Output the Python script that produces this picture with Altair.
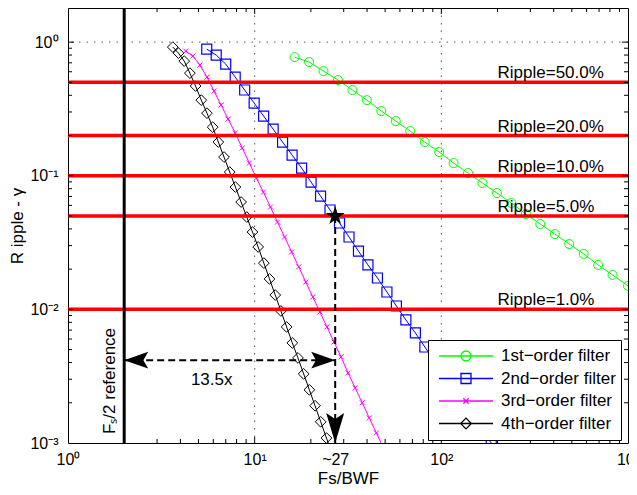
import altair as alt
import pandas as pd

# ---------------- data ----------------
ORDER1_X = [16.37, 19.56, 23.37, 27.94, 33.39, 39.90, 47.69, 57.00, 68.12, 81.44, 97.32, 116.3,
            139.0, 166.1, 198.6, 237.3, 283.7, 339.0, 405.2, 484.3, 578.8, 691.8, 826.8, 1000.0]
ORDER1_Y = [0.772, 0.709, 0.607, 0.520, 0.438, 0.368, 0.305, 0.2565, 0.2159, 0.1787, 0.1504, 0.1245,
            0.1047, 0.0882, 0.0742, 0.0625, 0.0517, 0.0435, 0.0366, 0.0308, 0.0260, 0.0215, 0.0181, 0.0150]

ORDER2_X = [5.537, 6.224, 6.997, 7.865, 8.841, 9.938, 11.17, 12.56, 14.11, 15.87, 17.84, 20.05,
            22.54, 25.33, 28.48, 32.02, 35.98, 40.45, 45.47, 51.11, 57.45, 64.58, 72.61, 81.60,
            91.74, 103.1, 115.9, 130.3, 146.5, 164.6, 185.1]
ORDER2_Y = [0.886, 0.799, 0.685, 0.547, 0.438, 0.350, 0.2797, 0.2235, 0.1787, 0.1428, 0.1142, 0.0897,
            0.0705, 0.0554, 0.0443, 0.0348, 0.0273, 0.0215, 0.01717, 0.01349, 0.01060, 0.00833, 0.00666,
            0.00523, 0.00411, 0.00323, 0.00258, 0.00203, 0.00159, 0.00127, 0.00100]

ORDER3_X = [4.276, 4.665, 5.089, 5.552, 6.057, 6.607, 7.209, 7.865, 8.580, 9.361, 10.21, 11.14,
            12.15, 13.26, 14.46, 15.78, 17.22, 18.79, 20.49, 22.36, 24.39, 26.61, 29.03, 31.67,
            34.55, 37.69, 41.12, 44.85, 48.94]
ORDER3_Y = [0.856, 0.786, 0.673, 0.547, 0.430, 0.338, 0.2655, 0.2087, 0.1611, 0.1245, 0.0961, 0.0755,
            0.0583, 0.0450, 0.0348, 0.0269, 0.0208, 0.0160, 0.01238, 0.00956, 0.00739, 0.00570, 0.00441,
            0.00334, 0.00258, 0.00200, 0.00154, 0.00119, 0.00092]

ORDER4_X = [3.644, 3.908, 4.193, 4.497, 4.825, 5.175, 5.552, 5.956, 6.388, 6.853, 7.351, 7.886,
            8.459, 9.073, 9.732, 10.44, 11.20, 12.01, 12.89, 13.82, 14.83, 15.91, 17.06, 18.30,
            19.63, 21.06, 22.59, 24.24, 26.0]
ORDER4_Y = [0.918, 0.827, 0.721, 0.586, 0.469, 0.368, 0.294, 0.231, 0.1787, 0.1380, 0.1066, 0.0823,
            0.0636, 0.0491, 0.0379, 0.0293, 0.0222, 0.0169, 0.0128, 0.00973, 0.00739, 0.00561, 0.00433,
            0.00329, 0.00250, 0.00190, 0.00144, 0.00109, 0.00083]

SERIES_NAMES = ["1st\u2212order filter", "2nd\u2212order filter", "3rd\u2212order filter", "4th\u2212order filter"]

RIPPLE_LEVELS = [0.5, 0.2, 0.1, 0.05, 0.01]
RIPPLE_LABELS = ["Ripple=50.0%", "Ripple=20.0%", "Ripple=10.0%", "Ripple=5.0%", "Ripple=1.0%"]
RIPPLE_LABEL_X = 200

FS_HALF = 2
STAR_X, STAR_Y = 27, 0.05
ARROW_Y = 0.00417
Y_BOTTOM = 0.001
FACTOR_TEXT = "13.5x"
FACTOR_X, FACTOR_Y = 5.886, 0.00296
REF_TEXT = "F\u209b/2 reference"
REF_Y = 0.00291

X_LABEL_VALUES = [1, 10, 27, 100, 1000]
Y_LABEL_VALUES = [0.001, 0.01, 0.1, 1]
X_TICKS_MAJOR = [10, 100]
X_TICKS_MINOR = [2, 3, 4, 5, 6, 7, 8, 9, 20, 30, 40, 50, 60, 70, 80, 90,
                 200, 300, 400, 500, 600, 700, 800, 900]
Y_TICKS_MAJOR = [0.01, 0.1, 1]
Y_TICKS_MINOR = [0.002, 0.003, 0.004, 0.005, 0.006, 0.007, 0.008, 0.009,
                 0.02, 0.03, 0.04, 0.05, 0.06, 0.07, 0.08, 0.09,
                 0.2, 0.3, 0.4, 0.5, 0.6, 0.7, 0.8, 0.9]
GRID_X = [10, 100]
GRID_Y = [0.01, 0.1, 1]

# ---------------- styling ----------------
W, H = 560, 435
FONT = "Liberation Sans"
FS = 17
TICK_FS = 16
COLORS = ["#00ff00", "#0000ff", "#ff00ff", "#000000"]

XPATH = "M-1,-1L1,1M-1,1L1,-1"
STAR = ("M0,-1L0.2245,-0.309L0.951,-0.309L0.3633,0.118L0.588,0.809L0,0.382"
        "L-0.588,0.809L-0.3633,0.118L-0.951,-0.309L-0.2245,-0.309Z")
LEFT_HEAD = "M0,0L2,-0.7L1.6,0L2,0.7Z"
RIGHT_HEAD = "M0,0L-2,-0.7L-1.6,0L-2,0.7Z"
DOWN_HEAD = "M0,0L-0.75,-2.5L0,-2L0.75,-2.5Z"
LEG_PATHS = [
    "M-1,0L1,0M-0.185,0A0.185,0.185,0,1,0,0.185,0A0.185,0.185,0,1,0,-0.185,0",
    "M-1,0L1,0M-0.185,-0.185L0.185,-0.185L0.185,0.185L-0.185,0.185Z",
    "M-1,0L1,0M-0.1,-0.1L0.1,0.1M-0.1,0.1L0.1,-0.1",
    "M-1,0L1,0M0,-0.2L0.2,0L0,0.2L-0.2,0Z",
]

xs = alt.Scale(type="log", domain=[1, 1000], nice=False)
ys = alt.Scale(type="log", domain=[0.001, 1.8], nice=False)

x_axis = alt.Axis(
    values=X_LABEL_VALUES,
    labelExpr="datum.value < 5 ? '10\u2070' : datum.value < 20 ? '10\u00b9' : datum.value < 50 ? '~27' : datum.value < 500 ? '10\u00b2' : '10\u00b3'",
    ticks=False, domain=False, grid=False,
    labelFont=FONT, labelFontSize=TICK_FS, labelColor="black", labelPadding=8,
    labelFlush=False, labelOverlap=False, labelBound=False,
    title="Fs/BWF", titleFont=FONT, titleFontSize=FS, titleFontWeight="normal",
    titleColor="black", titleY=40, titleBaseline="alphabetic",
)
y_axis = alt.Axis(
    values=Y_LABEL_VALUES,
    labelExpr="datum.value > 0.5 ? '10\u2070' : datum.value > 0.05 ? '10\u207b\u00b9' : datum.value > 0.005 ? '10\u207b\u00b2' : '10\u207b\u00b3'",
    ticks=False, domain=False, grid=False,
    labelFont=FONT, labelFontSize=TICK_FS, labelColor="black", labelPadding=10,
    labelFlush=False, labelOverlap=False, labelBound=False,
    title="R ipple - \u03b3", titleFont=FONT, titleFontSize=FS, titleFontWeight="normal",
    titleColor="black", titleX=-46, titleBaseline="alphabetic", titleAngle=270,
)


def X(field):
    return alt.X(f"{field}:Q", scale=xs, axis=x_axis)


def Y(field):
    return alt.Y(f"{field}:Q", scale=ys, axis=y_axis)


layers = []

# grid
layers.append(alt.Chart(pd.DataFrame({"v": GRID_X})).mark_rule(
    color="#555555", strokeWidth=1, strokeDash=[1.5, 6]).encode(x=X("v")))
layers.append(alt.Chart(pd.DataFrame({"v": GRID_Y})).mark_rule(
    color="#555555", strokeWidth=1, strokeDash=[1.5, 6]).encode(y=Y("v")))

# series
series = [
    (ORDER1_X, ORDER1_Y, COLORS[0], "circle", 81, 1),
    (ORDER2_X, ORDER2_Y, COLORS[1], "square", 100, 1.2),
    (ORDER3_X, ORDER3_Y, COLORS[2], XPATH, 25, 1),
    (ORDER4_X, ORDER4_Y, COLORS[3], "diamond", 115, 1),
]
for xv, yv, col, shp, sz, sw in series:
    df = pd.DataFrame({"x": xv, "y": yv})
    base = alt.Chart(df)
    layers.append(base.mark_line(color=col, strokeWidth=1, clip=True).encode(x=X("x"), y=Y("y")))
    layers.append(base.mark_point(shape=shp, size=sz, filled=False, color=col, strokeWidth=sw,
                                  opacity=1, clip=True).encode(x=X("x"), y=Y("y")))

# ripple levels
ripple_df = pd.DataFrame({"level": RIPPLE_LEVELS, "label": RIPPLE_LABELS,
                          "lx": [RIPPLE_LABEL_X] * len(RIPPLE_LEVELS)})
layers.append(alt.Chart(ripple_df).mark_rule(color="#ff0000", strokeWidth=3.5).encode(y=Y("level")))

# Fs/2 reference line
layers.append(alt.Chart(pd.DataFrame({"x": [FS_HALF]})).mark_rule(
    color="black", strokeWidth=3).encode(x=X("x")))

layers.append(alt.Chart(ripple_df).mark_text(
    align="left", baseline="alphabetic", dy=-4, font=FONT, fontSize=FS, color="black"
).encode(x=X("lx"), y=Y("level"), text="label:N"))

# dashed arrows
layers.append(alt.Chart(pd.DataFrame({"x": [FS_HALF], "x2": [STAR_X], "y": [ARROW_Y]})).mark_rule(
    color="black", strokeWidth=2, strokeDash=[7, 4]).encode(x=X("x"), x2="x2:Q", y=Y("y")))
layers.append(alt.Chart(pd.DataFrame({"x": [STAR_X], "y": [STAR_Y], "y2": [Y_BOTTOM]})).mark_rule(
    color="black", strokeWidth=2, strokeDash=[7, 4]).encode(x=X("x"), y=Y("y"), y2="y2:Q"))

heads = [
    (FS_HALF, ARROW_Y, LEFT_HEAD, 576),
    (STAR_X, ARROW_Y, RIGHT_HEAD, 576),
    (STAR_X, Y_BOTTOM, DOWN_HEAD, 576),
    (STAR_X, STAR_Y, STAR, 400),
]
for hx, hy, shp, sz in heads:
    layers.append(alt.Chart(pd.DataFrame({"x": [hx], "y": [hy]})).mark_point(
        shape=shp, size=sz, filled=True, color="black", opacity=1, strokeWidth=0
    ).encode(x=X("x"), y=Y("y")))

# annotation texts
layers.append(alt.Chart(pd.DataFrame({"x": [FACTOR_X], "y": [FACTOR_Y], "t": [FACTOR_TEXT]})).mark_text(
    align="center", baseline="middle", font=FONT, fontSize=FS, color="black"
).encode(x=X("x"), y=Y("y"), text="t:N"))
layers.append(alt.Chart(pd.DataFrame({"x": [FS_HALF], "y": [REF_Y], "t": [REF_TEXT]})).mark_text(
    align="center", baseline="alphabetic", angle=270, dy=-9, font=FONT, fontSize=FS, color="black"
).encode(x=X("x"), y=Y("y"), text="t:N"))

# inward ticks (box on all four sides)
for vals, ln in [(X_TICKS_MAJOR, 6), (X_TICKS_MINOR, 4)]:
    d = pd.DataFrame({"v": vals})
    layers.append(alt.Chart(d).mark_rule(color="black", strokeWidth=1).encode(
        x=X("v"), y=alt.value(H), y2=alt.value(H - ln)))
    layers.append(alt.Chart(d).mark_rule(color="black", strokeWidth=1).encode(
        x=X("v"), y=alt.value(0), y2=alt.value(ln)))
for vals, ln in [(Y_TICKS_MAJOR, 6), (Y_TICKS_MINOR, 4)]:
    d = pd.DataFrame({"v": vals})
    layers.append(alt.Chart(d).mark_rule(color="black", strokeWidth=1).encode(
        y=Y("v"), x=alt.value(0), x2=alt.value(ln)))
    layers.append(alt.Chart(d).mark_rule(color="black", strokeWidth=1).encode(
        y=Y("v"), x=alt.value(W), x2=alt.value(W - ln)))

# legend (from an off-plot, clipped layer)
legend = alt.Legend(
    title=None, orient="none", legendX=360, legendY=332, columns=1,
    fillColor="white", strokeColor="black", padding=5, cornerRadius=0,
    labelFont=FONT, labelFontSize=FS, labelColor="black", labelLimit=400,
    symbolSize=2916, symbolStrokeWidth=1.3, symbolOffset=5, labelOffset=7,
    clipHeight=22, rowPadding=0.5,
)
leg_df = pd.DataFrame({"series": SERIES_NAMES, "x": [0.5] * 4, "y": [0.5] * 4})
layers.append(alt.Chart(leg_df).mark_point(filled=False, opacity=1, clip=True, strokeWidth=1).encode(
    x=X("x"), y=Y("y"),
    color=alt.Color("series:N", scale=alt.Scale(domain=SERIES_NAMES, range=COLORS), legend=legend, title=None),
    shape=alt.Shape("series:N", scale=alt.Scale(domain=SERIES_NAMES, range=LEG_PATHS), legend=legend, title=None),
))

chart = alt.layer(*layers).properties(
    width=W, height=H,
    padding={"left": 60, "top": 0, "right": 1, "bottom": 44},
    autosize=alt.AutoSizeParams(type="none"),
    background="white",
).configure_view(stroke="black", strokeWidth=1)

chart.save("out.html", embed_options={"renderer": "svg", "actions": False})
